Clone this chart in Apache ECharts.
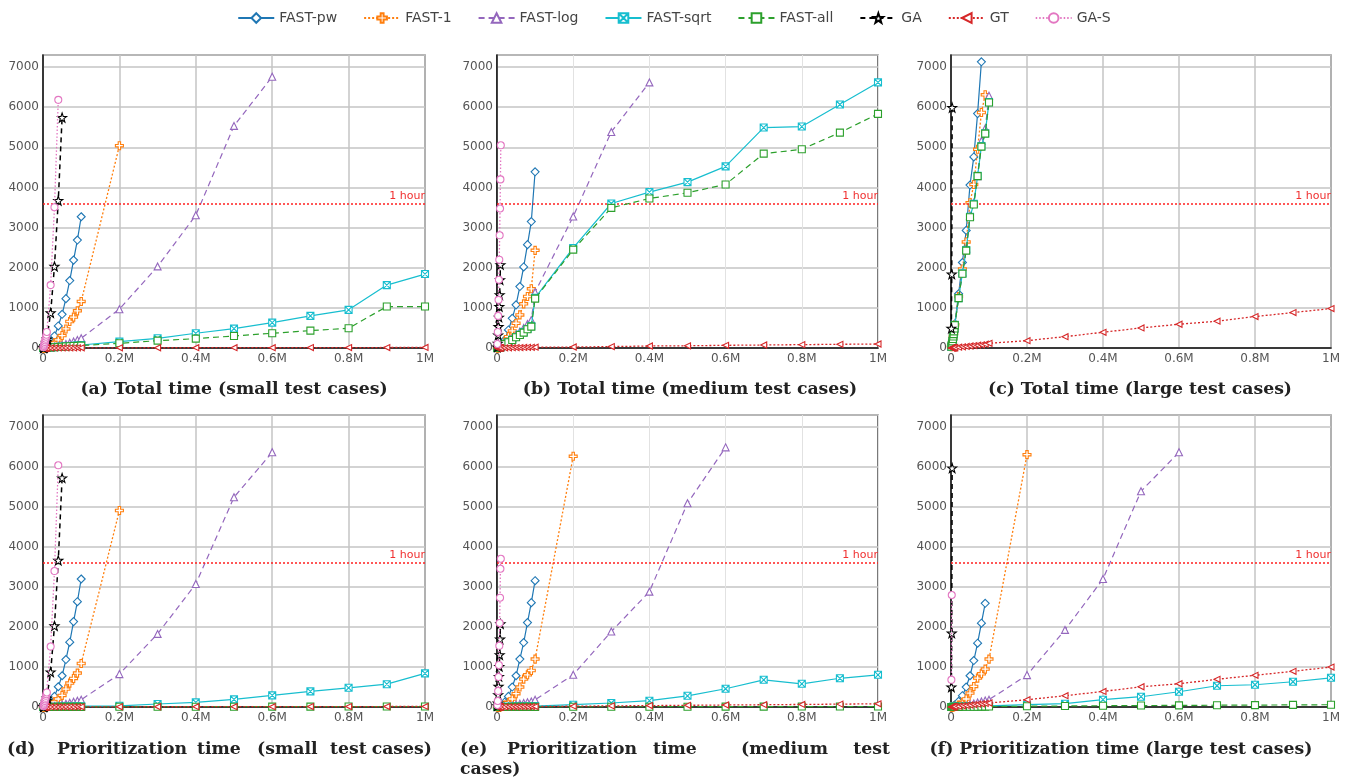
<!DOCTYPE html>
<html><head><meta charset="utf-8">
<script src="https://cdn.jsdelivr.net/npm/echarts@6/dist/echarts.min.js"></script>
<style>html,body{margin:0;padding:0;background:#fff}#c{width:1348px;height:782px}</style>
</head><body><div id="c"></div>
<script>
// x positions (test suite sizes)
const XS = [1000,2000,3000,4000,5000,6000,7000,8000,9000,10000,
  20000,30000,40000,50000,60000,70000,80000,90000,100000,
  200000,300000,400000,500000,600000,700000,800000,900000,1000000];
const xTicks = ['0','0.2M','0.4M','0.6M','0.8M','1M'];
const seriesNames = ['FAST-pw','FAST-1','FAST-log','FAST-sqrt','FAST-all','GA','GT','GA-S'];

// (a) Total time (small test cases)
const a_pw   = [1,2,3,5,7,10,13,17,21,40, 150,300,550,840,1230,1680,2190,2690,3270];
const a_f1   = [1,1,2,3,4,5,6,8,10,30, 70,130,200,310,475,660,770,925,1160, 5040];
const a_log  = [1,1,1,2,2,3,3,4,5,10, 20,35,55,75,100,130,160,200,242, 967,2033,3308,5533,6758];
const a_sqrt = [1,1,2,2,3,3,4,4,5,10, 15,22,28,35,42,50,57,65,75, 158,242,367,483,633,800,950,1567,1842];
const a_all  = [1,1,2,2,3,3,4,4,5,8, 12,18,24,30,36,42,48,54,60, 117,183,233,300,367,433,492,1033,1033];
const a_ga   = [3,8,15,25,40,60,85,120,160,220, 875,2033,3675,5742];
const a_gt   = [0,0,0,0,0,0,1,1,1,1, 1,2,2,2,3,3,3,4,4, 5,6,7,8,9,10,11,12,13];
const a_gas  = [20,50,80,110,150,190,230,280,330,400, 1567,3508,6183];

// (b) Total time (medium test cases)
const b_pw   = [2,4,7,11,16,22,30,40,50,80, 200,450,740,1075,1530,2020,2575,3150,4390];
const b_f1   = [1,3,5,8,11,15,20,26,33,60, 150,283,425,617,825,1100,1283,1475,2433];
const b_log  = [1,3,5,8,11,15,19,24,30,70, 130,180,250,330,410,500,600,700,1392, 3275,5383,6617];
const b_sqrt = [1,2,4,6,8,11,14,17,22,65, 110,150,210,275,335,395,475,545,1250, 2492,3600,3883,4133,4525,5492,5517,6067,6617];
const b_all  = [1,2,4,6,8,11,14,17,22,60, 100,142,200,267,325,383,467,533,1230, 2450,3492,3725,3867,4075,4842,4950,5367,5833];
const b_ga   = [20,117,325,533,767,1033,1325,1700,2075];
const b_gt   = [0,0,0,1,1,1,1,1,2,2, 4,6,8,10,12,14,16,18,20, 25,35,50,55,67,75,84,92,100];
const b_gas  = [100,400,800,1200,1700,2200,2808,3475,4200,5050];

// (c) Total time (large test cases)
const c_pw   = [40,80,130,190,260,330,400,470,530,600, 1350,2130,2930,4060,4760,5840,7130];
const c_f1   = [35,75,120,180,240,300,370,440,510,580, 1283,1967,2642,3617,4075,4950,5867,6308];
const c_log  = [30,70,110,170,230,290,350,420,490,560, 1250,1880,2480,3300,3620,4283,5158,5467,6283];
const c_sqrt = [30,70,110,170,230,290,350,420,490,575, 1242,1860,2440,3270,3590,4290,5030,5350,6125];
const c_all  = [30,70,110,165,225,285,345,415,485,570, 1242,1850,2425,3258,3575,4283,5017,5342,6117];
const c_ga   = [490,1840,5990];
const c_gt   = [1,2,3,4,5,6,7,8,9,10, 20,30,40,50,60,70,80,95,117, 183,283,392,500,592,667,783,883,983];
const c_gas  = [];

// (d) Prioritization time (small test cases)
const d_pw   = [1,2,3,4,6,8,11,14,18,40, 120,265,506,781,1187,1620,2135,2633,3200];
const d_f1   = [0,1,1,2,3,4,5,6,8,25, 60,130,200,290,449,598,714,847,1088, 4912];
const d_log  = [0,1,1,1,2,2,3,3,4,8, 15,25,40,60,80,105,130,155,182, 823,1828,3075,5244,6367];
const d_sqrt = [0,0,0,1,1,1,1,1,2,3, 4,6,8,10,12,14,16,18,20, 30,75,115,190,290,390,480,570,840];
const d_all  = [0,0,0,0,0,0,0,1,1,1, 1,1,2,2,2,3,3,3,4, 5,6,7,8,9,10,11,12,13];
const d_ga   = [3,8,15,25,40,60,85,120,160,220, 873,2027,3666,5726];
const d_gt   = [0,0,0,0,0,0,1,1,1,1, 1,2,2,2,3,3,3,4,4, 5,6,7,8,9,10,11,12,13];
const d_gas  = [20,50,80,110,150,190,230,280,320,364, 1511,3399,6042];

// (e) Prioritization time (medium test cases)
const e_pw   = [1,2,3,4,6,8,11,14,18,40, 120,265,499,781,1197,1611,2110,2609,3157];
const e_f1   = [0,1,1,2,2,3,4,5,6,20, 50,110,200,332,499,698,805,913,1197, 6267];
const e_log  = [0,1,1,1,2,2,3,3,4,8, 15,25,40,60,80,100,120,140,182, 805,1886,2884,5094,6491];
const e_sqrt = [0,0,0,1,1,1,1,1,2,3, 5,7,9,11,13,15,17,19,22, 57,100,157,280,456,680,580,718,805];
const e_all  = [0,0,0,0,0,0,0,1,1,1, 1,1,2,2,2,3,3,3,4, 5,6,7,8,9,10,11,12,13];
const e_ga   = [30,100,307,514,763,1013,1304,1695,2077];
const e_gt   = [0,0,0,0,1,1,1,1,1,2, 3,4,5,6,7,8,9,10,12, 20,28,35,42,50,57,64,72,80];
const e_gas  = [50,150,400,750,1050,1530,2100,2733,3457,3706];

// (f) Prioritization time (large test cases)
const f_pw   = [2,4,6,9,12,16,20,25,30,50, 140,282,499,781,1162,1596,2095,2593];
const f_f1   = [1,2,3,4,5,7,9,11,14,20, 50,110,200,349,514,723,830,948,1197, 6309];
const f_log  = [0,1,1,2,2,3,3,4,5,8, 15,25,40,60,85,110,135,160,182, 798,1928,3200,5394,6367];
const f_sqrt = [0,1,1,1,2,2,2,3,3,5, 8,10,13,16,19,22,25,28,30, 57,82,182,257,381,531,556,631,730];
const f_all  = [0,0,0,1,1,1,1,1,2,2, 3,4,5,6,7,8,9,10,11, 20,25,32,36,40,45,48,52,57];
const f_ga   = [499,1845,5975];
const f_gt   = [1,2,3,4,5,6,7,8,9,10, 20,30,40,50,60,70,80,90,100, 182,282,389,506,581,693,793,893,998];
const f_gas  = [680,2800];

const panelData = [
  [a_pw,a_f1,a_log,a_sqrt,a_all,a_ga,a_gt,a_gas],
  [b_pw,b_f1,b_log,b_sqrt,b_all,b_ga,b_gt,b_gas],
  [c_pw,c_f1,c_log,c_sqrt,c_all,c_ga,c_gt,c_gas],
  [d_pw,d_f1,d_log,d_sqrt,d_all,d_ga,d_gt,d_gas],
  [e_pw,e_f1,e_log,e_sqrt,e_all,e_ga,e_gt,e_gas],
  [f_pw,f_f1,f_log,f_sqrt,f_all,f_ga,f_gt,f_gas]
];

// styles
const STAR = 'path://M10,0L12.35,6.76L19.51,6.91L13.8,11.24L15.88,18.09L10,14L4.12,18.09L6.2,11.24L0.49,6.91L7.65,6.76Z';
const PLUS = 'path://M3.5,0L6.5,0L6.5,3.5L10,3.5L10,6.5L6.5,6.5L6.5,10L3.5,10L3.5,6.5L0,6.5L0,3.5L3.5,3.5Z';
const LTRI = 'path://M0,5L10,0L10,10Z';
const XBOX = 'path://M0,0L10,0L10,10L0,10ZM0,0L10,10M10,0L0,10';
const styles = [
  {c:'#1f77b4', sym:'diamond', sz:8, type:'solid', w:1.2},
  {c:'#ff7f0e', sym:PLUS, sz:8, type:[2,2], w:1.3},
  {c:'#9467bd', sym:'triangle', sz:7, type:[6,4], w:1.2},
  {c:'#17becf', sym:XBOX, sz:7, type:'solid', w:1.2},
  {c:'#2ca02c', sym:'rect', sz:7, type:[6,4], w:1.2},
  {c:'#000000', sym:STAR, sz:9, type:[5,4], w:1.5},
  {c:'#d62728', sym:LTRI, sz:6, type:[2,2], w:1.3},
  {c:'#e377c2', sym:'circle', sz:7, type:[1.5,2], w:1.3}
];

const lefts = [43, 497, 951];
const widths = [382, 381, 380];
const tops = [55, 415];
const heights = [293, 292];
const lightX = [false, true, false, false, true, false];

const grids = [], xAxes = [], yAxes = [], series = [];
for (let p = 0; p < 6; p++) {
  const col = p % 3, row = Math.floor(p / 3);
  grids.push({left: lefts[col], top: tops[row], width: widths[col], height: heights[row],
    show: true, borderColor: '#222', borderWidth: 1.2, backgroundColor: 'transparent'});
  xAxes.push({type: 'value', gridIndex: p, min: 0, max: 1000000, interval: 200000,
    axisLine: {show: true, onZero: false, lineStyle: {color: '#111', width: 1.5}},
    axisTick: {show: false},
    axisLabel: {color: '#555', fontSize: 12, fontFamily: 'DejaVu Sans', margin: 5,
      formatter: v => xTicks[Math.round(v / 200000)]},
    splitLine: {show: true, lineStyle: lightX[p] ? {color: '#e2e2e2', width: 1} : {color: '#c4c4c4', width: 1.5}}});
  yAxes.push({type: 'value', gridIndex: p, min: 0, max: 7300, interval: 1000,
    axisLine: {show: true, lineStyle: {color: '#111', width: 1.5}},
    axisTick: {show: false},
    axisLabel: {color: '#555', fontSize: 12, fontFamily: 'DejaVu Sans', margin: 4, showMaxLabel: false,
      formatter: v => String(Math.round(v))},
    splitLine: {show: true, lineStyle: {color: '#c4c4c4', width: 1.5}}});
  const vals = panelData[p];
  for (let s = 0; s < 8; s++) {
    const st = styles[s];
    series.push({
      name: seriesNames[s], type: 'line', xAxisIndex: p, yAxisIndex: p,
      data: vals[s].map((v, i) => [XS[i], v]),
      symbol: st.sym, symbolSize: st.sz, showSymbol: true,
      color: st.c,
      lineStyle: {color: st.c, width: st.w, type: st.type},
      itemStyle: {color: '#fff', borderColor: st.c, borderWidth: 1.1},
      emphasis: {disabled: true}, animation: false, z: 2 + s
    });
  }
  series.push({
    name: 'hour' + p, type: 'line', xAxisIndex: p, yAxisIndex: p, data: [], animation: false,
    color: '#ff2020',
    markLine: {silent: true, symbol: 'none', animation: false,
      lineStyle: {color: '#ff2020', type: [2, 2], width: 1.5, opacity: 1},
      label: {formatter: '1 hour', position: 'insideEndTop', color: '#f03030', fontSize: 11,
        fontFamily: 'DejaVu Sans', distance: [0, 2]},
      data: [{yAxis: 3600}]}
  });
}

const TF = 'bold 17.3px "DejaVu Serif"';
function title(t, x, y, align) {
  return {type: 'text', style: {text: t, x: x, y: y, textAlign: align || 'center', textVerticalAlign: 'middle', font: TF, fill: '#222'}};
}
const graphics = [
  title('(a) Total time (small test cases)', 234, 390),
  title('(b) Total time (medium test cases)', 690, 390),
  title('(c) Total time (large test cases)', 1140, 390),
  title('(d)', 7, 750, 'left'),
  title('Prioritization', 57, 750, 'left'),
  title('time', 197, 750, 'left'),
  title('(small', 257, 750, 'left'),
  title('test', 330, 750, 'left'),
  title('cases)', 432, 750, 'right'),
  title('(e)', 460, 750, 'left'),
  title('Prioritization', 507, 750, 'left'),
  title('time', 653, 750, 'left'),
  title('(medium', 741, 750, 'left'),
  title('test', 890, 750, 'right'),
  title('cases)', 460, 770, 'left'),
  title('(f) Prioritization time (large test cases)', 1121, 750)
];

const chart = echarts.init(document.getElementById('c'), null, {renderer: 'canvas'});
chart.setOption({
  backgroundColor: '#fff',
  animation: false,
  legend: {data: seriesNames, top: 6, left: 'center', itemWidth: 36, itemHeight: 12, itemGap: 26,
    textStyle: {color: '#444', fontSize: 14, fontFamily: 'DejaVu Sans'}},
  grid: grids, xAxis: xAxes, yAxis: yAxes, series: series, graphic: graphics
});
</script></body></html>
